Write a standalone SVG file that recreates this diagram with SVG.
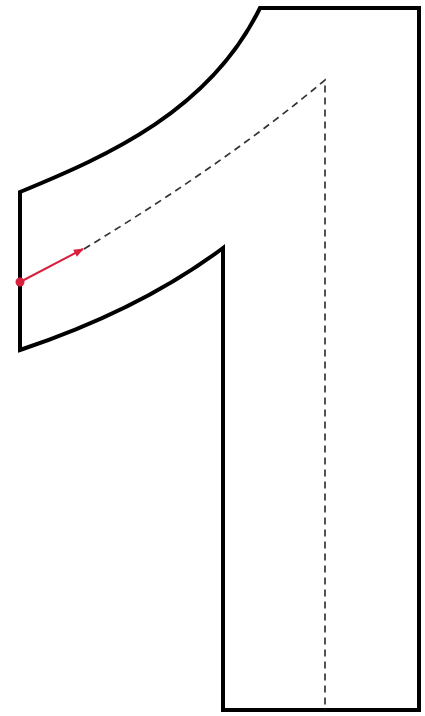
<svg xmlns="http://www.w3.org/2000/svg" width="425" height="716" viewBox="0 0 425 716">
<style>
.outline{fill:none;stroke:#000;stroke-width:4;stroke-linejoin:miter}
.dash{fill:none;stroke:#333;stroke-width:1.7;stroke-dasharray:7 5}
.red{stroke:#d81f3c;stroke-width:2;fill:none}
</style>
<defs>
<marker id="ah" viewBox="0 0 10 10" refX="9" refY="5" markerWidth="12" markerHeight="10" orient="auto" markerUnits="userSpaceOnUse">
<path d="M0,1 L10,5 L0,9 z" fill="#d81f3c"/>
</marker>
</defs>
<rect width="425" height="716" fill="#fff"/>
<g id="glyph">
<path class="outline" d="M20,192 C110,155 210,110 260,8 L419,8 L419,710 L223,710 L223,248 Q140,310 20,350 Z"/>
</g>
<g id="connectors">
<path class="dash" d="M84,249 Q230,160 325,80 L325,710"/>
<line class="red" x1="20" y1="282" x2="83" y2="249" marker-end="url(#ah)"/>
<circle cx="20" cy="282" r="4.5" fill="#d81f3c"/>
</g>
</svg>
